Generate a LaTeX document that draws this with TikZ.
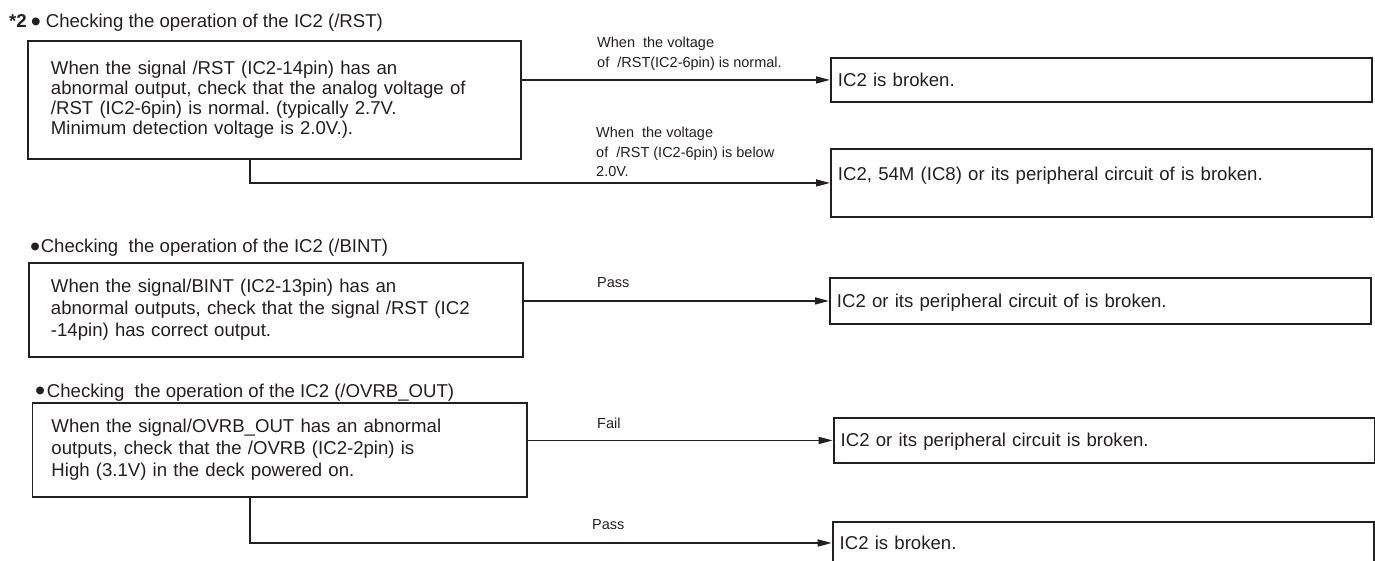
\documentclass[tikz,border=0pt]{standalone}
\usepackage{fontspec}
\setmainfont{Liberation Sans}
\usetikzlibrary{arrows.meta}
\definecolor{ink}{RGB}{35,31,32}
\frenchspacing

\begin{document}
\begin{tikzpicture}[x=1pt, y=-1pt, every node/.style={text=ink},
	chk/.style={draw=ink, line width=1.9pt, anchor=north west, inner ysep=0pt, align=left, font=\fontsize{18.6}{20}\selectfont},
	res/.style={draw=ink, line width=1.9pt, anchor=north west, inner xsep=7pt, inner ysep=0pt, text width=527pt, align=left, text height=13pt, text depth=0pt, font=\fontsize{18.6}{20}\selectfont},
	lbl/.style={anchor=north west, inner sep=0pt, align=left, font=\fontsize{14.5}{20}\selectfont},
	hdr/.style={anchor=base west, inner sep=0pt, font=\fontsize{18.6}{20}\selectfont},
	arr/.style={draw=ink, line width=1.5pt, -{Triangle[length=14pt,width=7pt]}}]
	\def\bul{\raisebox{-3.7pt}{\scalebox{1.55}{•}}}
	\useasboundingbox (0,0) rectangle (1375,561);
	\clip (0,0) rectangle (1375,561);

	\node[hdr] (h1) at (9,27.5) {\textbf{*2}\hspace{4pt}\bul\hspace{5pt}Checking the operation of the IC2 (/RST)};
	\node[chk, inner xsep=23pt, text width=447pt, minimum height=118pt] (A) at (27,40)
		{When the signal /RST (IC2-14pin) has an\\abnormal output, check that the analog voltage of\\/RST (IC2-6pin) is normal. (typically 2.7V.\\Minimum detection voltage is 2.0V.).};
	\node[res, minimum height=44pt] (A1) at (830,57) {IC2 is broken.};
	\node[res, minimum height=68pt, text depth=17pt] (A2) at (830,148) {IC2, 54M (IC8) or its peripheral circuit of is broken.};
	\node[lbl] (lA1) at (597,36.4) {When\ \ the voltage\\of\ \ /RST(IC2-6pin) is normal.};
	\node[lbl, font=\fontsize{14.5}{19.5}\selectfont] (lA2) at (596,127) {When\ \ the voltage\\of\ \ /RST (IC2-6pin) is below\\2.0V.};
	\coordinate (kA) at (250,182);
	\draw[arr] (A.east |- A1.west) -- (A1.west);
	\draw[arr] (A.south -| kA) |- (A2.west);

	\node[hdr] (h2) at (30,253) {\bul\hspace{0.5pt}Checking\ \ the operation of the IC2 (/BINT)};
	\node[chk, inner xsep=22pt, text width=450pt, minimum height=94pt, font=\fontsize{18.6}{22}\selectfont] (B) at (28,262)
		{When the signal/BINT (IC2-13pin) has an\\abnormal outputs, check that the signal /RST (IC2\\-14pin) has correct output.};
	\node[res, minimum height=46pt] (B1) at (829,277) {IC2 or its peripheral circuit of is broken.};
	\node[lbl] (lB1) at (597,277.6) {Pass};
	\draw[arr] (B.east |- B1.west) -- (B1.west);

	\node[hdr] (h3) at (35,397) {\bul\hspace{1.6pt}Checking\ \ the operation of the IC2 (/OVRB\_OUT)};
	\node[chk, inner xsep=19pt, text width=456.5pt, minimum height=94pt, font=\fontsize{18.6}{22}\selectfont] (C) at (31.5,402)
		{When the signal/OVRB\_OUT has an abnormal\\outputs, check that the /OVRB (IC2-2pin) is\\High (3.1V) in the deck powered on.};
	\node[res, minimum height=45pt] (C1) at (832.7,417) {IC2 or its peripheral circuit is broken.};
	\node[res, minimum height=60pt, text depth=18.4pt] (C2) at (831.7,521) {IC2 is broken.};
	\node[lbl] (lC1) at (597,417.4) {Fail};
	\node[lbl] (lC2) at (592,519.6) {Pass};
	\coordinate (kC) at (250,543);
	\draw[arr] (C.east |- C1.west) -- (C1.west);
	\draw[arr] (C.south -| kC) -- (kC) -- (kC -| C2.west);
\end{tikzpicture}
\end{document}
